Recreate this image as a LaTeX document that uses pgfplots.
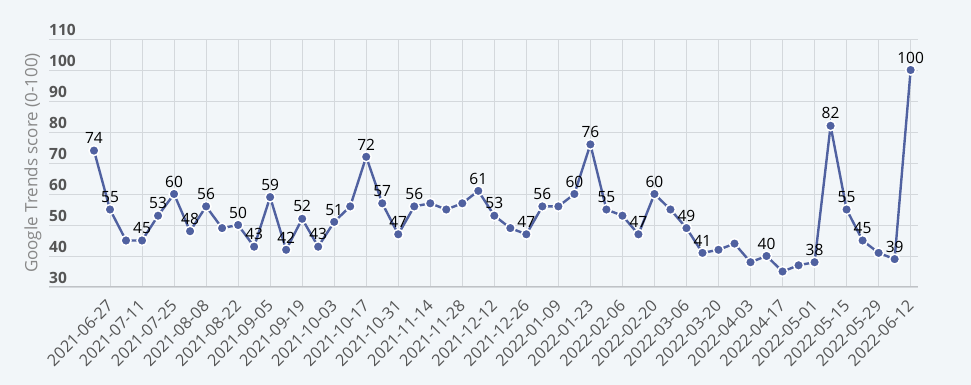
\documentclass[border=0pt]{standalone}
\usepackage{pgfplots}
\pgfplotsset{compat=1.18}
\usepackage{fontspec}
\setmainfont{Open Sans}
\definecolor{bg}{HTML}{F2F6F9}
\definecolor{gridc}{HTML}{D4D8DC}
\definecolor{linec}{HTML}{5061A0}
\definecolor{tickc}{HTML}{555555}
\definecolor{labc}{HTML}{888888}
\begin{document}
\begin{tikzpicture}[x=1pt,y=1pt]
\fill[bg] (0,0) rectangle (971,385);
\begin{axis}[
  at={(49pt,98pt)}, anchor=south west,
  scale only axis, width=869pt, height=248pt,
  xmin=-2.81, xmax=51.46, ymin=30, ymax=110,
  xtick={1,3,...,51},
  xticklabels={2021-06-27,2021-07-11,2021-07-25,2021-08-08,2021-08-22,2021-09-05,2021-09-19,2021-10-03,2021-10-17,2021-10-31,2021-11-14,2021-11-28,2021-12-12,2021-12-26,2022-01-09,2022-01-23,2022-02-06,2022-02-20,2022-03-06,2022-03-20,2022-04-03,2022-04-17,2022-05-01,2022-05-15,2022-05-29,2022-06-12},
  ytick={30,40,...,110},
  grid=major,
  major grid style={draw=gridc, line width=0.9pt},
  axis x line*=bottom, axis y line*=left,
  x axis line style={draw=gridc!90!black, line width=1pt, -},
  y axis line style={draw=none},
  major tick length=0pt,
  /pgf/number format/assume math mode=true,
  yticklabel style={font=\fontsize{15.5}{16}\selectfont\bfseries, text=tickc, anchor=south west, inner sep=0pt, yshift=3.5pt},
  xticklabel style={font=\fontsize{16.2}{17}\selectfont, text=tickc, inner sep=0pt, yshift=-16pt, rotate=45, anchor=east},
  ylabel={Google Trends score (0-100)},
  every axis y label/.style={at={(axis description cs:-0.0185,0.5)}, rotate=90, anchor=center, font=\fontsize{17}{18}\selectfont, text=labc},
  clip=false,
]
\addplot[color=linec, line width=2.4pt, mark=*, mark size=5pt,
  mark options={fill=linec, draw=white, line width=1.5pt}]
  coordinates {
  (0,74)(1,55)(2,45)(3,45)(4,53)(5,60)(6,48)(7,56)(8,49)(9,50)
  (10,43)(11,59)(12,42)(13,52)(14,43)(15,51)(16,56)(17,72)(18,57)(19,47)
  (20,56)(21,57)(22,55)(23,57)(24,61)(25,53)(26,49)(27,47)(28,56)(29,56)
  (30,60)(31,76)(32,55)(33,53)(34,47)(35,60)(36,55)(37,49)(38,41)(39,42)
  (40,44)(41,38)(42,40)(43,35)(44,37)(45,38)(46,82)(47,55)(48,45)(49,41)
  (50,39)(51,100)};
\addplot[draw=none, mark=none, nodes near coords,
  every node near coord/.style={font=\fontsize{15.5}{16}\selectfont, text=black, anchor=south, inner sep=1pt, yshift=5.5pt},
  /pgf/number format/assume math mode=true]
  coordinates {
  (0,74)(1,55)(3,45)(4,53)(5,60)(6,48)(7,56)(9,50)
  (10,43)(11,59)(12,42)(13,52)(14,43)(15,51)(17,72)(18,57)(19,47)
  (20,56)(24,61)(25,53)(27,47)(28,56)
  (30,60)(31,76)(32,55)(34,47)(35,60)(37,49)(38,41)
  (42,40)(45,38)(46,82)(47,55)(48,45)
  (50,39)(51,100)};
\end{axis}
\pgfresetboundingbox
\useasboundingbox (0,0) rectangle (971,385);
\end{tikzpicture}
\end{document}
